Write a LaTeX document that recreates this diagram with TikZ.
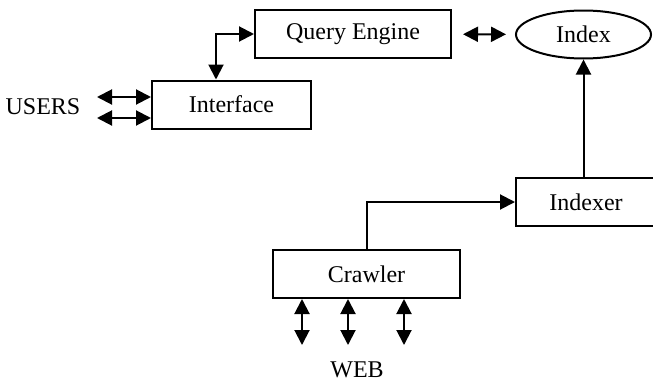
\documentclass[tikz,border=0pt]{standalone}
\usepackage{fontspec}
\setmainfont{Liberation Serif}
\usepackage{tikz}
\usetikzlibrary{arrows.meta,shapes.geometric}

\begin{document}
\begin{tikzpicture}[x=0.5pt,y=-0.5pt,<->,>={Triangle[length=7.5pt,width=7.5pt]},line width=1pt,
    font=\fontsize{12}{14}\selectfont,
    box node/.style={rectangle,draw,inner sep=0pt,minimum height=24pt},
    store node/.style={ellipse,draw,inner sep=0pt,minimum width=67.5pt,minimum height=24pt}]
  \clip (0,0) rectangle (653,380);
    \node[box node,minimum width=98pt] (qe) at (353,34) {Query Engine};
    \node[store node] (index) at (583.5,34.5) {Index};
    \node[box node,minimum width=79.5pt] (iface) at (231.5,104.5) {Interface};
    \node[box node,minimum width=70pt] (indexer) at (586,202) {Indexer};
    \node[box node,minimum width=93.5pt] (crawler) at (366.5,274) {Crawler};
    \node (users) at (43,107) {USERS};
    \node (web) at (357,370) {WEB};

    % ends of the open arrows
    \coordinate (u1) at (97,97);
    \coordinate (u2) at (97,118);
    \coordinate (w1) at (302,345);
    \coordinate (w2) at (348,345);
    \coordinate (w3) at (404,345);

    \draw[shorten <=5.5pt,shorten >=4.5pt] (qe) -- (index);
    \draw (qe.west) -| ([xshift=32.5pt]iface.north west);
    \draw (u1) -- (u1 -| iface.west);
    \draw (u2) -- (u2 -| iface.west);
    \draw[->] (crawler.north) |- (indexer.west);
    \draw[->] (indexer.north -| index.south) -- (index.south);
    \draw (w1) -- (w1 |- crawler.south);
    \draw (w2) -- (w2 |- crawler.south);
    \draw (w3) -- (w3 |- crawler.south);
  \end{tikzpicture}
\end{document}
